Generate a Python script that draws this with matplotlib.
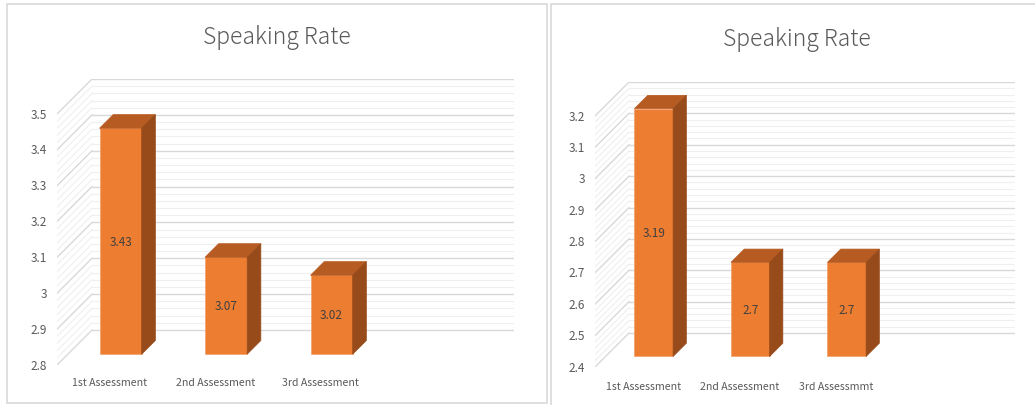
import numpy as np
import matplotlib
matplotlib.use("Agg")
import matplotlib.pyplot as plt
from matplotlib.patches import Rectangle, Polygon

# data
categories_left = ["1st Assessment", "2nd Assessment", "3rd Assessment"]
values_left = [3.43, 3.07, 3.02]
categories_right = ["1st Assessment", "2nd Assessment", "3rd Assessmmt"]
values_right = [3.19, 2.7, 2.7]
title = "Speaking Rate"

W, H = 1035, 406
# Source Sans latin glyphs in Noto CJK are close to Calibri's proportions
plt.rcParams["font.family"] = ["Noto Sans CJK JP", "DejaVu Sans"]

TXT = "#595959"
FRONT, TOP, SIDE = "#ED7D31", "#B65B21", "#974B1A"

fig = plt.figure(figsize=(W / 100, H / 100), dpi=100)


def panel(cats, vals, ymin, ymax, x0, x1, yb, yt, depth, title_xy, label_dy):
    # x0..x1 / yb..yt: front plane in pixels (y from top); 4 category slots
    ncat = 4
    sx = (x1 - x0) / ncat
    sy = (yb - yt) / (ymax - ymin)
    ddx, ddy = depth / sx, depth / sy
    ax = fig.add_axes([x0 / W, 1 - yb / H, (x1 + depth - x0) / W, (yb - yt + depth) / H])
    ax.set_xlim(-0.5, ncat - 0.5 + ddx)
    ax.set_ylim(ymin, ymax + ddy)
    ax.axis("off")

    levels = np.round(np.arange(ymin, ymax + 1e-9, 0.02), 2)
    for v in levels:
        major = abs(round(v * 10) - v * 10) < 1e-6
        c = "#D9D9D9" if major else "#EFEFEF"
        lw = 1.0 if major else 0.8
        ax.plot([-0.5 + ddx, ncat - 0.5 + ddx], [v + ddy, v + ddy], color=c, lw=lw, zorder=1)
        ax.plot([-0.5, -0.5 + ddx], [v, v + ddy], color=c, lw=lw, zorder=1)
        if major:
            ax.text(-0.5 - 10 / sx, v, f"{v:g}", ha="right", va="center",
                    fontsize=8.5, color=TXT)

    f, g, bw = 0.31, 0.39, 0.2
    for i, (cat, val) in enumerate(zip(cats, vals)):
        xl, xr = i - bw + f * ddx, i + bw + f * ddx
        y0, y1 = ymin + f * ddy, val + f * ddy
        ax.add_patch(Rectangle((xl, y0), xr - xl, y1 - y0, facecolor=FRONT,
                               edgecolor="#F4A06A", lw=0.5, zorder=3))
        ax.add_patch(Polygon([(xl, y1), (xr, y1), (xr + g * ddx, y1 + g * ddy),
                              (xl + g * ddx, y1 + g * ddy)], closed=True,
                             facecolor=TOP, edgecolor=TOP, lw=0.5, zorder=3))
        ax.add_patch(Polygon([(xr, y0), (xr, y1), (xr + g * ddx, y1 + g * ddy),
                              (xr + g * ddx, y0 + g * ddy)], closed=True,
                             facecolor=SIDE, edgecolor=SIDE, lw=0.5, zorder=3))
        ax.text((xl + xr) / 2, (y0 + y1) / 2, f"{val:g}", ha="center", va="center",
                fontsize=8.5, color="#404040", zorder=4)
        ax.text(i, ymin - label_dy / sy, cat, ha="center", va="center",
                fontsize=7.6, color=TXT)

    fig.text(title_xy[0] / W, 1 - title_xy[1] / H, title, ha="center", va="center",
             fontsize=16.5, fontweight="light", color=TXT)


panel(categories_left, values_left, 2.8, 3.5, 57, 479, 366, 115, 35, (277, 38), 17)
panel(categories_right, values_right, 2.4, 3.2, 595, 981, 368, 117, 34, (797, 40), 19)

# panel borders
for (bx0, by0, bx1, by1) in [(7, 5, 547, 404), (551, 5, 1043, 412)]:
    fig.add_artist(Rectangle((bx0 / W, 1 - by1 / H), (bx1 - bx0) / W, (by1 - by0) / H,
                             transform=fig.transFigure, fill=False,
                             edgecolor="#D9D9D9", lw=1.2))

fig.savefig("out.png", dpi=100)
